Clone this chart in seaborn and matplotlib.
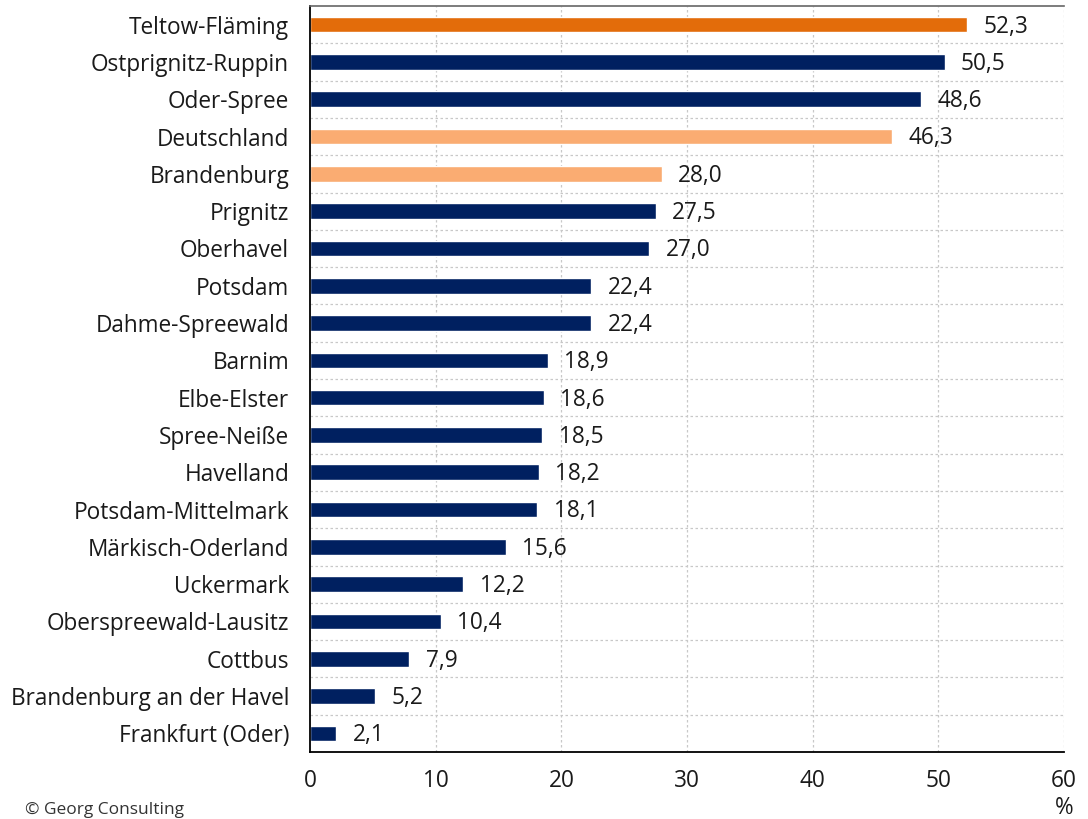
import matplotlib
matplotlib.use("Agg")
import matplotlib.pyplot as plt
import seaborn as sns
import pandas as pd

regions = [
    "Teltow-Fläming", "Ostprignitz-Ruppin", "Oder-Spree", "Deutschland",
    "Brandenburg", "Prignitz", "Oberhavel", "Potsdam", "Dahme-Spreewald",
    "Barnim", "Elbe-Elster", "Spree-Neiße", "Havelland", "Potsdam-Mittelmark",
    "Märkisch-Oderland", "Uckermark", "Oberspreewald-Lausitz", "Cottbus",
    "Brandenburg an der Havel", "Frankfurt (Oder)",
]
values = [52.3, 50.5, 48.6, 46.3, 28.0, 27.5, 27.0, 22.4, 22.4, 18.9,
          18.6, 18.5, 18.2, 18.1, 15.6, 12.2, 10.4, 7.9, 5.2, 2.1]
x_ticks = [0, 10, 20, 30, 40, 50, 60]

NAVY = "#002060"
ORANGE = "#E36C0A"
LIGHT_ORANGE = "#FAAC72"
highlight = {"Teltow-Fläming": ORANGE, "Deutschland": LIGHT_ORANGE, "Brandenburg": LIGHT_ORANGE}
palette = {r: highlight.get(r, NAVY) for r in regions}

df = pd.DataFrame({"region": regions, "value": values})

sns.set_theme(style="white")
plt.rcParams["font.family"] = ["Open Sans", "DejaVu Sans"]

FS = 16.3
TXT = "#1a1a1a"

fig = plt.figure(figsize=(10.88, 8.19), dpi=100)
ax = fig.add_axes([310 / 1088, 1 - 752 / 819, (1064 - 310) / 1088, (752 - 6) / 819])

sns.barplot(data=df, y="region", x="value", hue="region", palette=palette,
            order=regions, orient="h", width=0.42, legend=False, ax=ax,
            saturation=1)

ax.set_xlim(0, 60)
ax.set_ylim(len(regions) - 0.5, -0.5)
ax.set_xticks(x_ticks)
ax.set_xticklabels([str(t) for t in x_ticks], fontsize=FS, color=TXT)
ax.set_xlabel("")
ax.set_ylabel("")

# category labels on the left, tick marks at the category boundaries
ax.set_yticks(range(len(regions)))
ax.set_yticklabels(regions, fontsize=FS, color=TXT)
ax.tick_params(axis="y", which="major", length=0, pad=15)
ax.set_yticks([i + 0.5 for i in range(-1, len(regions))], minor=True)
ax.tick_params(axis="y", which="minor", length=7, width=1.2, color="#666666", direction="out")
ax.tick_params(axis="x", which="major", length=7, width=1.2, color="#666666",
               direction="inout", pad=9)

# dotted grid
for i in range(len(regions) - 1):
    ax.axhline(i + 0.5, color="#c8c8c8", lw=0.9, ls=(0, (2, 2)), zorder=0)
for t in x_ticks[1:]:
    ax.axvline(t, color="#c8c8c8", lw=0.9, ls=(0, (2, 2)), zorder=0)

for side in ["left", "bottom"]:
    ax.spines[side].set_color("black")
    ax.spines[side].set_linewidth(1.3)
ax.spines["top"].set_color("#666666")
ax.spines["top"].set_linewidth(1.2)
ax.spines["right"].set_visible(False)

# value labels
for i, v in enumerate(values):
    ax.text(v + 1.3, i + 0.05, f"{v:.1f}".replace(".", ","), va="center", ha="left",
            fontsize=FS, color=TXT)

ax.text(1.0, -0.075, "%", transform=ax.transAxes, ha="center", va="center",
        fontsize=FS, color=TXT)
fig.text(25 / 1088, 1 - 810 / 819, "© Georg Consulting", fontsize=12.5,
         color="#333333", ha="left", va="center")

fig.savefig("out.png", dpi=100)
